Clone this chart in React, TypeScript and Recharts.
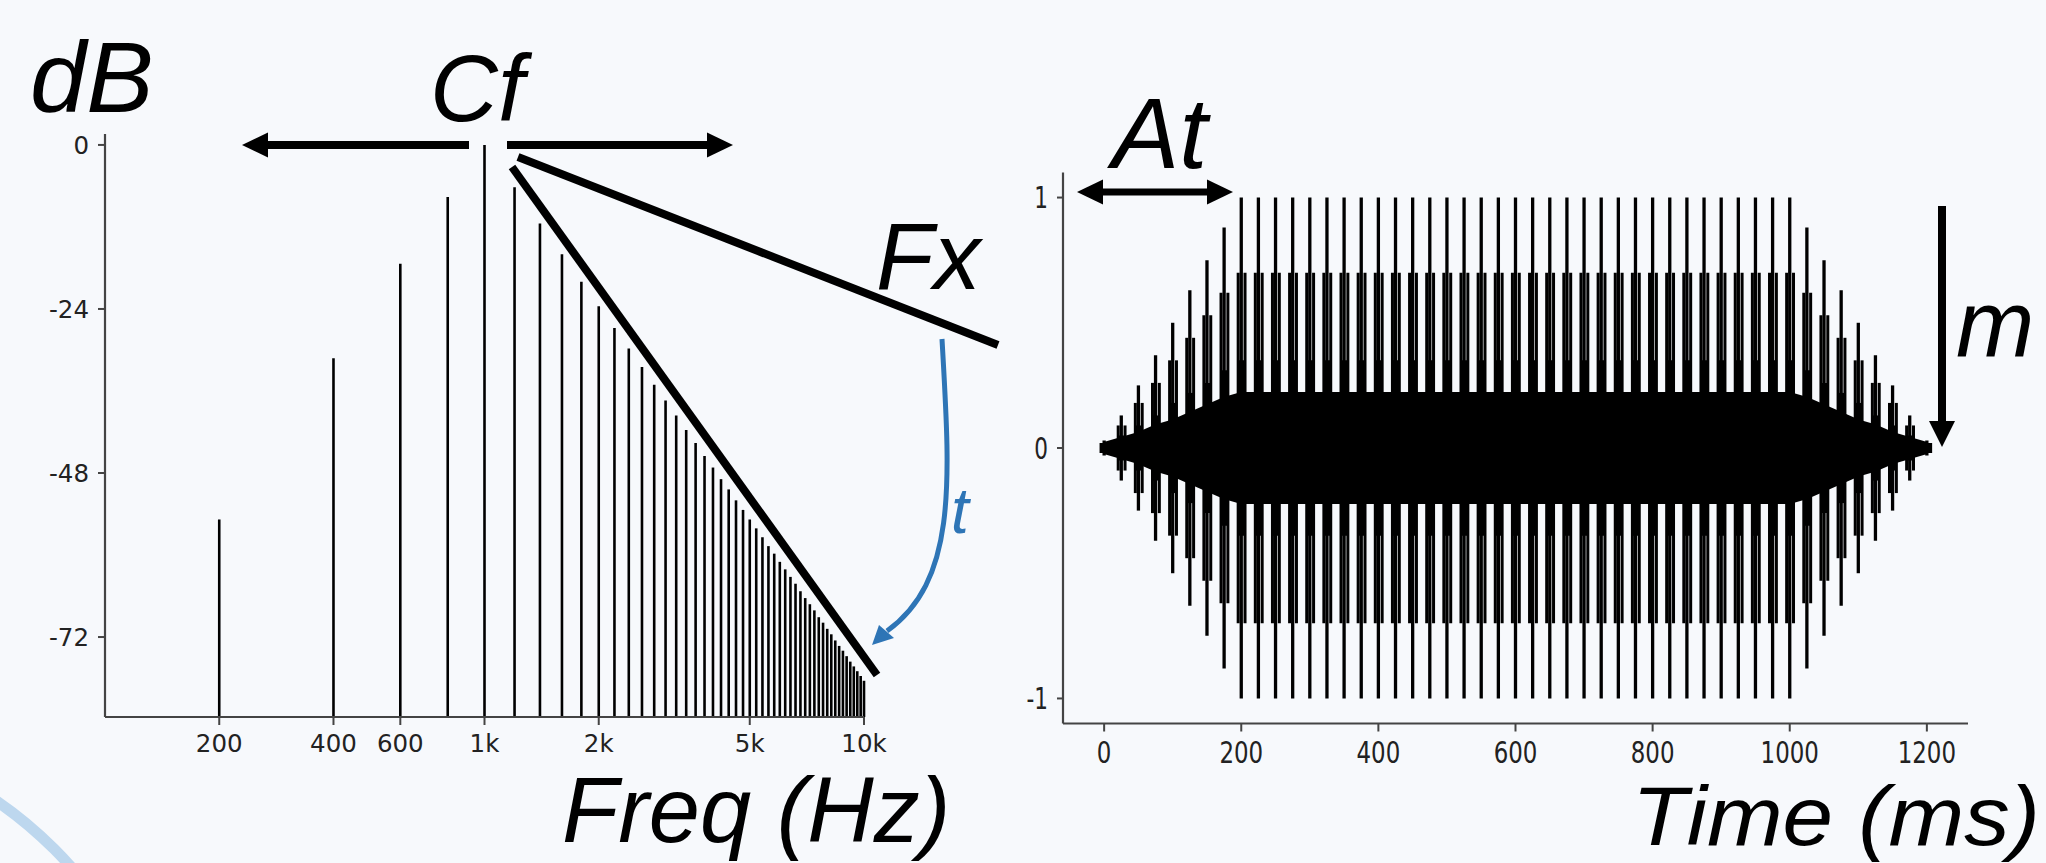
import React from "react";
import { ComposedChart, Scatter, ErrorBar, Area, XAxis, YAxis } from "recharts";

// spectrum (left)
const HARMONIC_HZ = [
  200, 400, 600, 800, 1000, 1200, 1400, 1600, 1800, 2000,
  2200, 2400, 2600, 2800, 3000, 3200, 3400, 3600, 3800, 4000,
  4200, 4400, 4600, 4800, 5000, 5200, 5400, 5600, 5800, 6000,
  6200, 6400, 6600, 6800, 7000, 7200, 7400, 7600, 7800, 8000,
  8200, 8400, 8600, 8800, 9000, 9200, 9400, 9600, 9800, 10000,
];
const HARMONIC_DB = [
  -54.8, -31.2, -17.4, -7.6, 0, -6.2, -11.5, -16.0, -20.0, -23.6,
  -26.8, -29.8, -32.5, -35.1, -37.4, -39.6, -41.7, -43.6, -45.5, -47.2,
  -48.9, -50.4, -52.0, -53.4, -54.8, -56.1, -57.4, -58.7, -59.8, -61.0,
  -62.1, -63.2, -64.2, -65.3, -66.3, -67.2, -68.1, -69.1, -69.9, -70.8,
  -71.6, -72.5, -73.3, -74.0, -74.8, -75.6, -76.3, -77.0, -77.7, -78.4,
];
const FREQ_TICKS = [200, 400, 600, 1000, 2000, 5000, 10000];
const FREQ_LABELS = ["200", "400", "600", "1k", "2k", "5k", "10k"];
const DB_TICKS = [0, -24, -48, -72];
const DB_DOMAIN = [-83.7, 1.6];

// waveform (right): one pulse every 25 ms
const PULSE_MS = [
  0, 25, 50, 75, 100, 125, 150, 175, 200, 225, 250, 275, 300, 325, 350, 375, 400,
  425, 450, 475, 500, 525, 550, 575, 600, 625, 650, 675, 700, 725, 750, 775, 800,
  825, 850, 875, 900, 925, 950, 975, 1000, 1025, 1050, 1075, 1100, 1125, 1150, 1175, 1200,
];
const MAIN_AMP = [
  0.03, 0.13, 0.25, 0.37, 0.5, 0.63, 0.75, 0.88,
  1, 1, 1, 1, 1, 1, 1, 1, 1, 1, 1,
  1, 1, 1, 1, 1, 1, 1, 1, 1, 1, 1,
  1, 1, 1, 1, 1, 1, 1, 1, 1, 1, 1,
  0.88, 0.75, 0.63, 0.5, 0.37, 0.25, 0.13, 0.03,
];
const SIDE_AMP = [
  0.02, 0.09, 0.18, 0.26, 0.35, 0.44, 0.53, 0.62,
  0.7, 0.7, 0.7, 0.7, 0.7, 0.7, 0.7, 0.7, 0.7, 0.7, 0.7,
  0.7, 0.7, 0.7, 0.7, 0.7, 0.7, 0.7, 0.7, 0.7, 0.7, 0.7,
  0.7, 0.7, 0.7, 0.7, 0.7, 0.7, 0.7, 0.7, 0.7, 0.7, 0.7,
  0.62, 0.53, 0.44, 0.35, 0.26, 0.18, 0.09, 0.02,
];
const STEM_AMP = [
  0.02, 0.05, 0.09, 0.13, 0.18, 0.22, 0.26, 0.31,
  0.35, 0.35, 0.35, 0.35, 0.35, 0.35, 0.35, 0.35, 0.35, 0.35, 0.35,
  0.35, 0.35, 0.35, 0.35, 0.35, 0.35, 0.35, 0.35, 0.35, 0.35, 0.35,
  0.35, 0.35, 0.35, 0.35, 0.35, 0.35, 0.35, 0.35, 0.35, 0.35, 0.35,
  0.31, 0.26, 0.22, 0.18, 0.13, 0.09, 0.05, 0.02,
];
const BAND_AMP = [
  0.02, 0.04, 0.06, 0.09, 0.11, 0.14, 0.17, 0.2,
  0.22, 0.22, 0.22, 0.22, 0.22, 0.22, 0.22, 0.22, 0.22, 0.22, 0.22,
  0.22, 0.22, 0.22, 0.22, 0.22, 0.22, 0.22, 0.22, 0.22, 0.22, 0.22,
  0.22, 0.22, 0.22, 0.22, 0.22, 0.22, 0.22, 0.22, 0.22, 0.22, 0.22,
  0.2, 0.17, 0.14, 0.11, 0.09, 0.06, 0.04, 0.02,
];
const SIDE_OFFSET_MS = [-4.5, 5.5];
const TIME_TICKS = [0, 200, 400, 600, 800, 1000, 1200];
const AMP_TICKS = [1, 0, -1];

const BG = "#f7f9fc";
const SPINE = "#444";
const TICK_FONT = "'DejaVu Sans', sans-serif";
const NOTE_FONT = "'Liberation Sans', Arial, sans-serif";

const spectrumData = HARMONIC_HZ.map((f, i) => ({
  f,
  y: HARMONIC_DB[i],
  err: [HARMONIC_DB[i] - DB_DOMAIN[0], 0],
}));

const bandData = PULSE_MS.map((t, i) => ({ t, band: [-BAND_AMP[i], BAND_AMP[i]] }));
const mainSpikes = PULSE_MS.map((t, i) => ({ t, y: 0, err: MAIN_AMP[i] }));
const stemSpikes = PULSE_MS.map((t, i) => ({ t: t + 0.5, y: 0, err: STEM_AMP[i] }));
const sideSpikes = SIDE_OFFSET_MS.flatMap((dt) =>
  PULSE_MS.map((t, i) => ({ t: t + dt, y: 0, err: SIDE_AMP[i] }))
);

const NoDot = () => <g />;

const FreqTick = ({ x, y, payload }: any) => (
  <text x={x} y={y} dy="0.71em" textAnchor="middle" fontSize={24.5} fill="#222" fontFamily={TICK_FONT}>
    {FREQ_LABELS[FREQ_TICKS.indexOf(payload.value)]}
  </text>
);

const DbTick = ({ x, y, payload }: any) => (
  <text x={x} y={y} dy="0.36em" textAnchor="end" fontSize={24.5} fill="#222" fontFamily={TICK_FONT}>
    {payload.value}
  </text>
);

// the waveform panel's labels are squeezed sideways in the source
const TimeTick = ({ x, y, payload }: any) => (
  <g transform={`translate(${x},${y})`}>
    <text transform="scale(0.74,1)" dy="0.71em" textAnchor="middle" fontSize={31} fill="#222" fontFamily={TICK_FONT}>
      {payload.value}
    </text>
  </g>
);

const AmpTick = ({ x, y, payload }: any) => (
  <g transform={`translate(${x},${y})`}>
    <text transform="scale(0.72,1)" dy="0.36em" textAnchor="end" fontSize={30} fill="#222" fontFamily={TICK_FONT}>
      {payload.value}
    </text>
  </g>
);

const SpectrumChart = () => (
  <ComposedChart width={1000} height={863} margin={{ top: 134, right: 136, bottom: 106, left: 35 }}>
    <XAxis
      type="number"
      dataKey="f"
      scale="log"
      domain={[100, 10000]}
      allowDataOverflow
      ticks={FREQ_TICKS}
      tick={<FreqTick />}
      height={40}
      tickSize={8}
      tickMargin={10}
      axisLine={{ stroke: SPINE, strokeWidth: 2.2 }}
      tickLine={{ stroke: SPINE, strokeWidth: 2 }}
    />
    <YAxis
      type="number"
      domain={DB_DOMAIN}
      allowDataOverflow
      ticks={DB_TICKS}
      tick={<DbTick />}
      width={70}
      tickSize={7}
      tickMargin={9}
      axisLine={{ stroke: SPINE, strokeWidth: 2.2 }}
      tickLine={{ stroke: SPINE, strokeWidth: 2 }}
    />
    <Scatter data={spectrumData} dataKey="y" shape={<NoDot />} isAnimationActive={false}>
      <ErrorBar dataKey="err" direction="y" width={0} stroke="#000" strokeWidth={2.6} isAnimationActive={false} />
    </Scatter>
  </ComposedChart>
);

const WaveChart = () => (
  <ComposedChart
    width={1046}
    height={863}
    data={bandData}
    margin={{ top: 172.5, right: 78, bottom: 99.5, left: 13 }}
  >
    <XAxis
      type="number"
      dataKey="t"
      domain={[-60, 1260]}
      allowDataOverflow
      ticks={TIME_TICKS}
      tick={<TimeTick />}
      height={40}
      tickSize={8}
      tickMargin={9}
      axisLine={{ stroke: SPINE, strokeWidth: 2.2 }}
      tickLine={{ stroke: SPINE, strokeWidth: 2 }}
    />
    <YAxis
      type="number"
      domain={[-1.1, 1.1]}
      allowDataOverflow
      ticks={AMP_TICKS}
      tick={<AmpTick />}
      width={50}
      tickSize={6}
      tickMargin={9}
      axisLine={{ stroke: SPINE, strokeWidth: 2.2 }}
      tickLine={{ stroke: SPINE, strokeWidth: 2 }}
    />
    <Area
      type="linear"
      dataKey="band"
      stroke="#000"
      strokeWidth={2}
      fill="#000"
      fillOpacity={1}
      dot={false}
      activeDot={false}
      isAnimationActive={false}
    />
    <Scatter data={stemSpikes} dataKey="y" shape={<NoDot />} isAnimationActive={false}>
      <ErrorBar dataKey="err" direction="y" width={0} stroke="#000" strokeWidth={6.5} isAnimationActive={false} />
    </Scatter>
    <Scatter data={sideSpikes} dataKey="y" shape={<NoDot />} isAnimationActive={false}>
      <ErrorBar dataKey="err" direction="y" width={0} stroke="#000" strokeWidth={3} isAnimationActive={false} />
    </Scatter>
    <Scatter data={mainSpikes} dataKey="y" shape={<NoDot />} isAnimationActive={false}>
      <ErrorBar dataKey="err" direction="y" width={0} stroke="#000" strokeWidth={3.3} isAnimationActive={false} />
    </Scatter>
  </ComposedChart>
);

const noteText = { fontFamily: NOTE_FONT, fontStyle: "italic" as const, fontSize: 94, fill: "#000" };

const Annotations = () => (
  <svg width={2046} height={863} style={{ position: "absolute", left: 0, top: 0, pointerEvents: "none" }}>
    <text x={30} y={112} {...noteText} fontSize={101}>dB</text>
    <text x={430} y={121} {...noteText}>Cf</text>
    <text x={876} y={289} {...noteText}>Fx</text>
    <text x={1112} y={168} {...noteText} fontSize={101}>At</text>
    <text x={1956} y={357} {...noteText}>m</text>
    <text x={562} y={842} {...noteText} fontSize={92}>Freq (Hz)</text>
    <text x={1632} y={845} {...noteText} fontSize={84} textLength={408} lengthAdjust="spacingAndGlyphs">
      Time (ms)
    </text>

    {/* Cf arrows */}
    <line x1={264} y1={145} x2={469} y2={145} stroke="#000" strokeWidth={8} />
    <polygon points="242,145 268,132.5 268,157.5" fill="#000" />
    <line x1={507} y1={145} x2={710} y2={145} stroke="#000" strokeWidth={8} />
    <polygon points="733,145 707,132.5 707,157.5" fill="#000" />

    {/* Fx lines */}
    <line x1={518} y1={157} x2={998} y2={345} stroke="#000" strokeWidth={8} />
    <line x1={512} y1={167} x2={877} y2={675} stroke="#000" strokeWidth={8} />

    {/* t arrow */}
    <path d="M 942 339 C 950 480, 958 580, 887 631" fill="none" stroke="#2e75b6" strokeWidth={5} />
    <polygon points="872,645 879,625 894,638" fill="#2e75b6" />
    <text x={951} y={533} fontFamily={NOTE_FONT} fontStyle="italic" fontSize={64} fill="#2e75b6">t</text>

    {/* At arrow */}
    <line x1={1100} y1={192} x2={1210} y2={192} stroke="#000" strokeWidth={7} />
    <polygon points="1077,192 1103,179.5 1103,204.5" fill="#000" />
    <polygon points="1233,192 1207,179.5 1207,204.5" fill="#000" />

    {/* m arrow */}
    <line x1={1942} y1={206} x2={1942} y2={425} stroke="#000" strokeWidth={8} />
    <polygon points="1942,447 1929,421 1955,421" fill="#000" />
  </svg>
);

export default function App() {
  return (
    <div style={{ position: "absolute", left: 0, top: 0, width: 2046, height: 863, background: BG, overflow: "hidden" }}>
      <svg width={2046} height={863} style={{ position: "absolute", left: 0, top: 0 }}>
        <circle cx={-233} cy={1136} r={406} fill="none" stroke="#bdd7ee" strokeWidth={11} />
      </svg>
      <div style={{ position: "absolute", left: 0, top: 0 }}>
        <SpectrumChart />
      </div>
      <div style={{ position: "absolute", left: 1000, top: 0 }}>
        <WaveChart />
      </div>
      <Annotations />
    </div>
  );
}
